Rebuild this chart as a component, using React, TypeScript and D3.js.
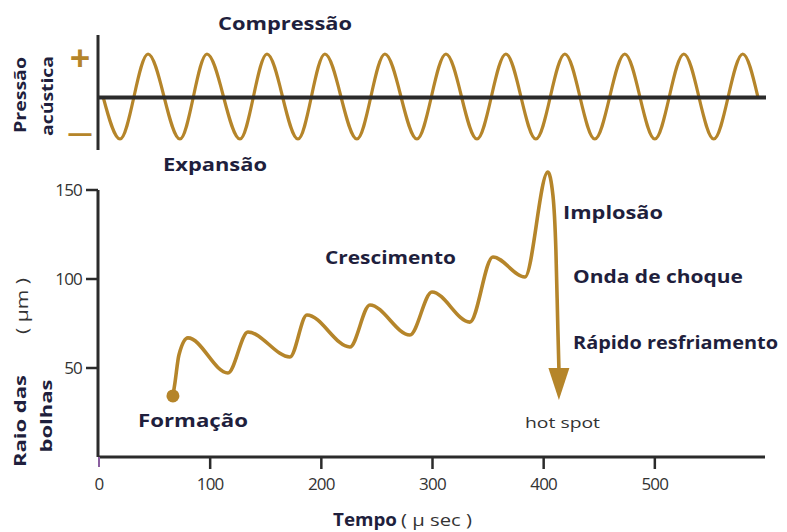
import React from "react";
import * as d3 from "d3";

// ---- Data ----
// Acoustic pressure wave (top panel): extrema, [time µs, relative pressure]
const pressureT = [3.6, 18.9, 44.1, 72.8, 97.1, 126.8, 151.1, 179, 203.2, 232, 257.2, 286, 312.1, 340, 366.0, 393, 419.1, 446, 473.0, 500, 526.1, 553, 579.1, 592.6];
const pressureV = [0, -1, 1, -1, 1, -1, 1, -1, 1, -1, 1, -1, 1, -1, 1, -1, 1, -1, 1, -1, 1, -1, 1, 0];

// Bubble radius curve (bottom panel): [time µs, radius µm]
const bubbleT = [66.5, 68.3, 71.9, 80, 116, 134, 171.8, 187, 225.7, 243.7, 279.7, 299.5, 333.6, 354.3, 383.1, 403.8, 408.3, 411, 412.8, 413.7];
const bubbleR = [34.3, 41.6, 57.3, 66.9, 47.2, 70.2, 56.2, 79.8, 61.8, 85.4, 68.5, 92.7, 75.8, 112.4, 101.1, 160.1, 147.2, 116.3, 71.3, 50];
const hotspotTip = { t: 413.7, r: 32 };

const xTicks = [0, 100, 200, 300, 400, 500];
const yTicks = [50, 100, 150];

const GOLD = "#b5852a";
const INK = "#1f1f3d";
const AXIS = "#2b2b2b";
const FONT = "'Open Sans', 'DejaVu Sans', sans-serif";

export default function App() {
  const x = d3.scaleLinear().domain([0, 600]).range([99, 766]);
  const y = d3.scaleLinear().domain([0, 150]).range([457, 190]);
  const yTop = d3.scaleLinear().domain([-1, 1]).range([139, 54]);

  const pressurePts: [number, number][] = pressureT.map((t, i) => [t, pressureV[i]]);
  const bubblePts: [number, number][] = bubbleT.map((t, i) => [t, bubbleR[i]]);

  const pressureLine = d3
    .line<[number, number]>()
    .x((d) => x(d[0]))
    .y((d) => yTop(d[1]))
    .curve(d3.curveMonotoneX);

  const bubbleLine = d3
    .line<[number, number]>()
    .x((d) => x(d[0]))
    .y((d) => y(d[1]))
    .curve(d3.curveMonotoneX);

  const last = bubblePts[bubblePts.length - 1];
  const tipX = x(hotspotTip.t);
  const tipY = y(hotspotTip.r);
  const baseY = y(last[1]);
  const halfW = 10.5;

  const boldText = (
    label: string,
    xx: number,
    yy: number,
    len: number,
    size = 17
  ) => (
    <text
      x={xx}
      y={yy}
      fontFamily={FONT}
      fontWeight={700}
      fontSize={size}
      fill={INK}
      textLength={len}
      lengthAdjust="spacingAndGlyphs"
    >
      {label}
    </text>
  );

  return (
    <svg
      width={787}
      height={532}
      style={{ position: "absolute", left: 0, top: 0, background: "#fff" }}
    >
      {/* ---- Top panel ---- */}
      <line x1={98} x2={98} y1={35} y2={150} stroke={AXIS} strokeWidth={3} />
      <path d={pressureLine(pressurePts) || ""} fill="none" stroke={GOLD} strokeWidth={3.2} />
      <line x1={98} x2={766} y1={yTop(0) + 1} y2={yTop(0) + 1} stroke={AXIS} strokeWidth={4} />
      <text x={80} y={71} textAnchor="middle" fontFamily={FONT} fontWeight={700} fontSize={36} fill={GOLD}>+</text>
      <text x={80} y={141} textAnchor="middle" fontFamily={FONT} fontWeight={700} fontSize={25} fill={GOLD}>—</text>
      <g transform="translate(26,95) rotate(-90)">
        <text textAnchor="middle" fontFamily={FONT} fontWeight={700} fontSize={16} fill={INK} textLength={76} lengthAdjust="spacingAndGlyphs">Pressão</text>
      </g>
      <g transform="translate(53,96) rotate(-90)">
        <text textAnchor="middle" fontFamily={FONT} fontWeight={700} fontSize={16} fill={INK} textLength={80} lengthAdjust="spacingAndGlyphs">acústica</text>
      </g>
      {boldText("Compressão", 218, 30, 134, 18)}
      {boldText("Expansão", 163, 171, 104, 18)}

      {/* ---- Bottom panel axes ---- */}
      <line x1={x(0) - 1} x2={x(0) - 1} y1={y(150)} y2={y(0)} stroke={AXIS} strokeWidth={3} />
      <line x1={x(0) - 1} x2={765} y1={y(0)} y2={y(0)} stroke={AXIS} strokeWidth={3} />
      {yTicks.map((v) => (
        <g key={"yt" + v}>
          <line x1={86} x2={98} y1={y(v)} y2={y(v)} stroke={AXIS} strokeWidth={2.5} />
          <text x={82} y={y(v) + 6} textAnchor="end" fontFamily={FONT} fontSize={17} fill="#333" letterSpacing={-0.8}>
            {v}
          </text>
        </g>
      ))}
      {xTicks.map((v) => (
        <g key={"xt" + v}>
          {v > 0 && <line x1={x(v)} x2={x(v)} y1={y(0)} y2={y(0) + 12} stroke={AXIS} strokeWidth={2.5} />}
          {v === 0 && <line x1={x(v)} x2={x(v)} y1={y(0)} y2={y(0) + 10} stroke="#8a5fa0" strokeWidth={2} />}
          <text x={x(v)} y={490} textAnchor="middle" fontFamily={FONT} fontSize={17} fill="#333" letterSpacing={-0.8}>
            {v}
          </text>
        </g>
      ))}

      {/* axis titles */}
      <g transform="translate(26,421) rotate(-90)">
        <text textAnchor="middle" fontFamily={FONT} fontWeight={700} fontSize={16} fill={INK} textLength={92} lengthAdjust="spacingAndGlyphs">Raio das</text>
      </g>
      <g transform="translate(52,416) rotate(-90)">
        <text textAnchor="middle" fontFamily={FONT} fontWeight={700} fontSize={16} fill={INK} textLength={73} lengthAdjust="spacingAndGlyphs">bolhas</text>
      </g>
      <g transform="translate(28,306) rotate(-90)">
        <text textAnchor="middle" fontFamily={FONT} fontSize={16} fill="#333" textLength={56} lengthAdjust="spacingAndGlyphs">( μm )</text>
      </g>
      {boldText("Tempo", 333, 526, 64, 17)}
      <text x={401} y={526} fontFamily={FONT} fontSize={16} fill="#333" textLength={71} lengthAdjust="spacingAndGlyphs">( μ sec )</text>

      {/* ---- Bubble curve ---- */}
      <path d={bubbleLine(bubblePts) || ""} fill="none" stroke={GOLD} strokeWidth={3.6} strokeLinejoin="round" />
      <circle cx={x(bubblePts[0][0])} cy={y(bubblePts[0][1])} r={6.5} fill={GOLD} />
      <polygon
        points={`${tipX - halfW},${baseY} ${tipX + halfW},${baseY} ${tipX},${tipY}`}
        fill={GOLD}
      />

      {/* annotations */}
      {boldText("Formação", 138, 427, 110, 18)}
      {boldText("Crescimento", 325, 264, 131, 17)}
      {boldText("Implosão", 563, 219, 100, 17)}
      {boldText("Onda de choque", 573, 283, 170, 17)}
      {boldText("Rápido resfriamento", 573, 349, 205, 17)}
      <text x={525} y={428} fontFamily={FONT} fontSize={15} fill="#333" textLength={75} lengthAdjust="spacingAndGlyphs">hot spot</text>
    </svg>
  );
}
